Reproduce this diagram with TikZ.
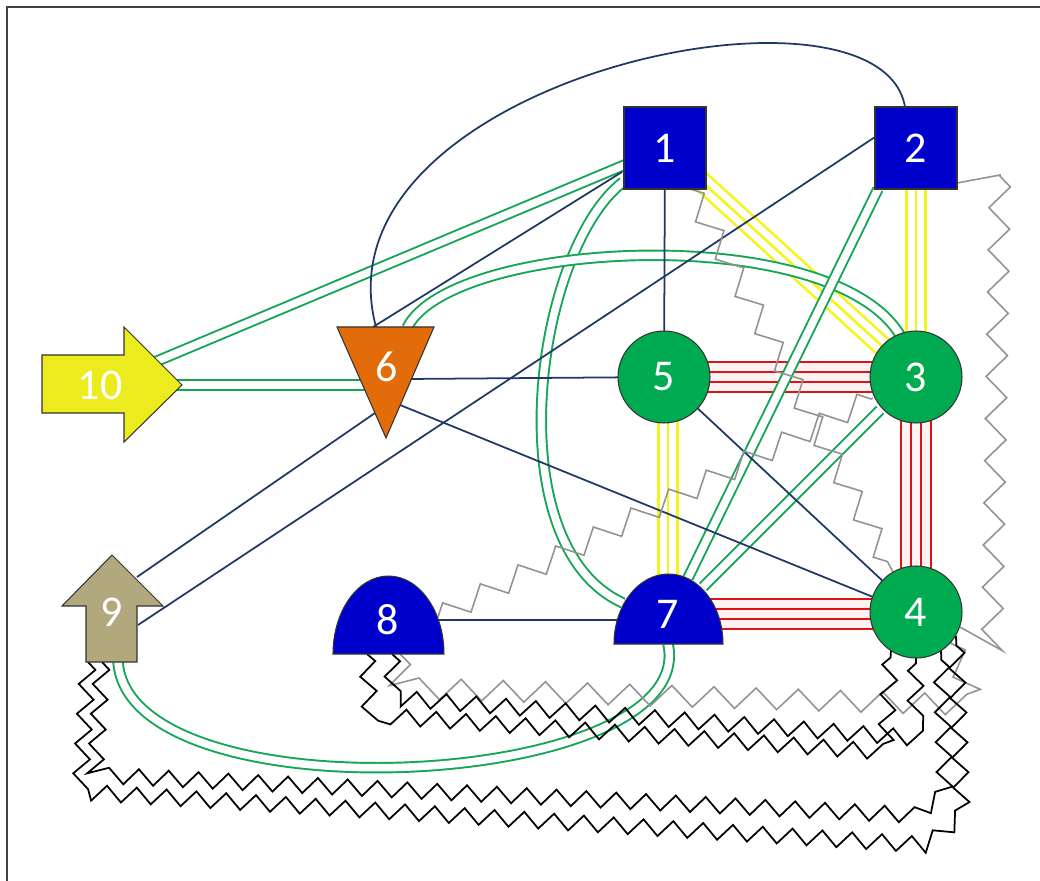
\documentclass[tikz,border=0pt]{standalone}
\usepackage{fontspec}
\newfontfamily\labelfont{Carlito}
\usetikzlibrary{calc,decorations.pathmorphing}
\pgfdeclarelayer{edges}
\pgfdeclarelayer{shapes}
\pgfsetlayers{edges,shapes,main}
\definecolor{nodeblue}{RGB}{0,0,204}
\definecolor{nodegreen}{RGB}{0,170,80}
\definecolor{nodeorange}{RGB}{227,108,10}
\definecolor{nodeyellow}{RGB}{235,235,30}
\definecolor{nodetan}{RGB}{178,168,125}
\definecolor{edgenavy}{RGB}{31,56,100}
\definecolor{edgegreen}{RGB}{20,165,85}
\definecolor{edgeyellow}{RGB}{245,245,30}
\definecolor{edgered}{RGB}{220,20,20}
\tikzset{
  vertex/.style={text=white, font=\labelfont\fontsize{25}{30}\selectfont, inner sep=0pt},
  box/.style={vertex, rectangle, draw=black!80, line width=0.6pt, fill=nodeblue, minimum size=1.64cm},
  disc/.style={vertex, circle, draw=black!80, line width=0.6pt, fill=nodegreen, minimum size=1.84cm},
  outline/.style={draw=black!80, line width=0.6pt},
  plain/.style={draw=edgenavy, line width=1pt},
  twin/.style={draw=edgegreen, double=white, line width=1.1pt, double distance=4.3pt},
  triple/.style={draw=edgeyellow, line width=12pt, postaction={draw=white, line width=9pt}, postaction={draw=edgeyellow, line width=1.5pt}},
  quad/.style={draw=edgered, line width=18.5pt, postaction={draw=red!5, line width=15.7pt}, postaction={draw=edgered, line width=7pt}, postaction={draw=red!5, line width=4.2pt}},
  zig/.style={draw=black, line width=1pt, decorate, decoration={zigzag, segment length=17pt, amplitude=4.5pt}},
  grayzig/.style={draw=gray!85, line width=0.9pt, decorate, decoration={zigzag, segment length=24pt, amplitude=6pt}}
}
\begin{document}
\begin{tikzpicture}[x=0.02cm, y=-0.02cm]
    \useasboundingbox (0,0) rectangle (1040,881);
    \draw[black!75, line width=1pt] (7,881) -- (7,7) -- (1040,7);
    \node[box] (n1) at (665,148) {1};
    \node[box] (n2) at (916,148) {2};
    \node[disc] (n3) at (916,377) {3};
    \node[disc] (n4) at (916,612) {4};
    \node[disc] (n5) at (664,377) {5};
    \node[vertex] (n6) at (387,367) {6};
    \node[vertex] (n7) at (668,614) {7};
    \node[vertex] (n8) at (388,620) {8};
    \node[vertex] (n9) at (112,612) {9};
    \node[vertex] (n10) at (100,385) {10};
    \begin{pgfonlayer}{shapes}
    \filldraw[outline, fill=nodeorange, shift={(n6)}] (-50,-40) -- (47,-40) -- (-1,71) -- cycle;
    \filldraw[outline, fill=nodeblue, shift={(n7)}] (-54,30) arc[start angle=180, end angle=0, x radius=1.09cm, y radius=1.40cm] -- cycle;
    \filldraw[outline, fill=nodeblue, shift={(n8)}] (-55,34) arc[start angle=180, end angle=0, x radius=1.11cm, y radius=1.56cm] -- cycle;
    \filldraw[outline, fill=nodetan, shift={(n9)}] (-26,50) -- (-26,-6) -- (-50,-6) -- (0,-57) -- (51,-6) -- (25,-6) -- (25,50) -- cycle;
    \filldraw[outline, fill=nodeyellow, shift={(n10)}] (-58,-30) -- (24,-30) -- (24,-58) -- (82,0) -- (24,57) -- (24,28) -- (-58,28) -- cycle;
    \end{pgfonlayer}
    \begin{pgfonlayer}{edges}
    \draw[quad] (n5.center) -- (n3.center);
    \draw[quad] (n3.center) -- (n4.center);
    \draw[quad] (n7.center) -- (n7 -| n4);
    \draw[triple] (n1.center) -- (n3.center);
    \draw[triple] (n2.center) -- (n3.center);
    \draw[triple] (n7 |- n5) -- (n7.center);
    \draw[twin] (n10.center) -- (n1.center);
    \draw[twin] (n10.center) -- (n10 -| n6);
    \draw[twin] ($(n1)+(-42,34)$) .. controls (535,250) and (495,545) .. ($(n7)+(-45,-11)$);
    \draw[twin] ($(n6)+(20,-39)$) .. controls (450,240) and (830,220) .. ($(n3)+(-16,-42)$);
    \draw[twin] ($(n2)+(-38,41)$) -- ($(n7)+(20,-36)$);
    \draw[twin] ($(n3)+(-36,33)$) -- ($(n7)+(35,-27)$);
    \draw[twin] ($(n9)+(6,50)$) .. controls (130,820) and (700,790) .. ($(n7)+(0,30)$);
    \draw[plain] (n1.center) -- (n5.center);
    \draw[plain] ($(n1)+(-43,24)$) -- ($(n6)+(-14,-40)$);
    \draw[plain] ($(n2)+(-11,-41)$) .. controls (880,-40) and (310,80) .. ($(n6)+(-11,-40)$);
    \draw[plain] ($(n2)+(-41,-11)$) -- ($(n9)+(26,13)$);
    \draw[plain] ($(n6)+(-12,46)$) -- ($(n9)+(25,-35)$);
    \draw[plain] ($(n6)+(20,12)$) -- (n5.center);
    \draw[plain] ($(n6)+(13,38)$) -- ($(n4)+(-43,-15)$);
    \draw[plain] (n5.center) -- (n4.center);
    \draw[plain] (n8.center) -- (n8 -| n7);
    \draw[grayzig] ($(n1)+(25,41)$) -- ($(n4)+(-23,-40)$);
    \draw[grayzig] ($(n8)+(50,-3)$) -- ($(n3)+(-43,21)$);
    \draw[grayzig, decoration={pre=lineto, pre length=0.9cm}] ($(n2)+(41,35)$) -- (1000,175) -- (992,645) -- ($(n4)+(44,15)$);
    \draw[grayzig] ($(n8)+(12,34)$) -- (400,688) -- (975,705) -- ($(n4)+(35,30)$);
    \draw[zig] ($(n9)+(-10,50)$) -- (95,775) -- (913,815) -- (945,795) -- ($(n4)+(25,38)$);
    \draw[zig] ($(n9)+(-24,50)$) -- (80,792) -- (928,845) -- (962,815) -- ($(n4)+(40,24)$);
    \draw[zig] ($(n8)+(-21,34)$) -- (370,715) -- (885,752) -- ($(n4)+(-25,38)$);
    \draw[zig] ($(n8)+(4,34)$) -- (393,698) -- (915,738) -- ($(n4)+(0,45)$);
    \end{pgfonlayer}
\end{tikzpicture}
\end{document}
